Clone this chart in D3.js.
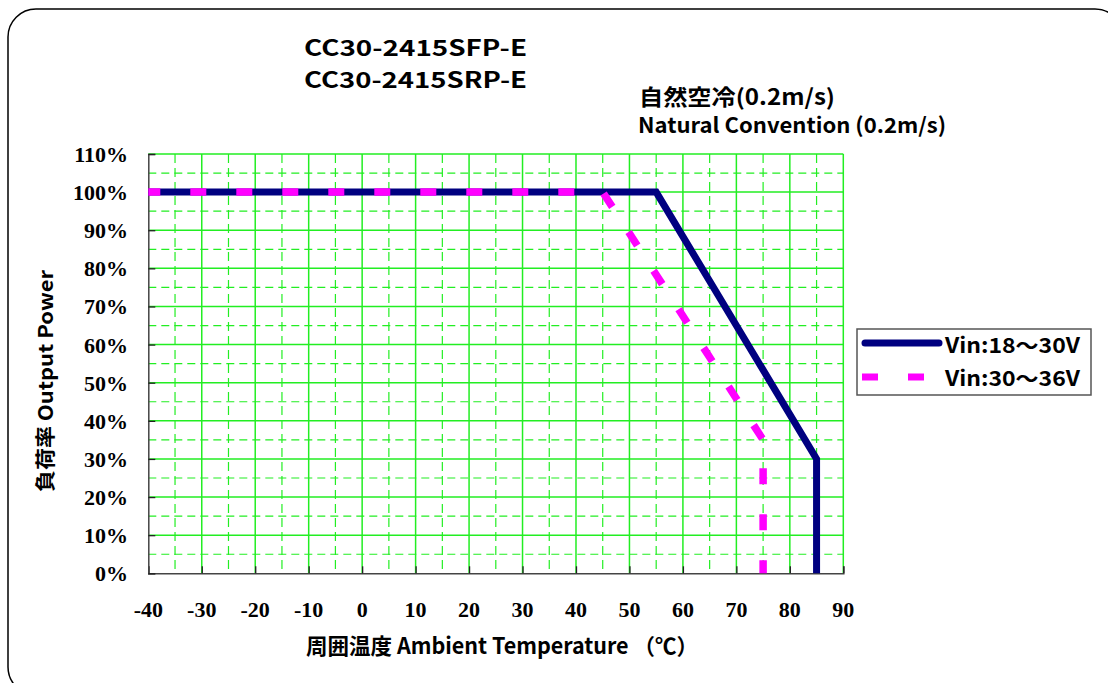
<!DOCTYPE html>
<meta charset="utf-8">
<style>
body { margin: 0; background: #fff; }
.tick-label { font: bold 22px "Liberation Serif", "Times New Roman", serif; fill: #000; }
.goth { font-family: "Noto Sans CJK JP", "Noto Sans", sans-serif; font-weight: bold; fill: #000; }
</style>
<svg width="1108" height="683"></svg>
<script src="https://d3js.org/d3.v7.min.js"></script>
<script>

// values
var xTicks = [-40, -30, -20, -10, 0, 10, 20, 30, 40, 50, 60, 70, 80, 90]
var yTicks = [0, 10, 20, 30, 40, 50, 60, 70, 80, 90, 100, 110]
var xMinor = [-35, -25, -15, -5, 5, 15, 25, 35, 45, 55, 65, 75, 85]
var yMinor = [5, 15, 25, 35, 45, 55, 65, 75, 85, 95, 105]

var tempA = [-40, 55, 85, 85]
var powerA = [100, 100, 30, 0]
var tempB = [-40, 45, 75, 75]
var powerB = [100, 100, 35, 0]

var seriesNames = ["Vin:18～30V", "Vin:30～36V"]
var titleLines = ["CC30-2415SFP-E", "CC30-2415SRP-E"]

var svg = d3.select("svg")

// outer rounded frame
svg.append("rect")
  .attr("x", 8).attr("y", 9)
  .attr("width", 1115).attr("height", 686)
  .attr("rx", 28).attr("ry", 28)
  .attr("fill", "none").attr("stroke", "#000").attr("stroke-width", 1.5)

var x = d3.scaleLinear().domain([-40, 90]).range([148.3, 843.3])
var y = d3.scaleLinear().domain([0, 110]).range([573.3, 154])

var grid = svg.append("g")

// minor dashed grid
grid.selectAll(".vminor").data(xMinor).enter().append("line")
  .attr("x1", function(d){ return x(d) }).attr("x2", function(d){ return x(d) })
  .attr("y1", y(110)).attr("y2", y(0))
  .attr("stroke", "#22ee22").attr("stroke-width", 1.2).attr("stroke-dasharray", "9,5")
grid.selectAll(".hminor").data(yMinor).enter().append("line")
  .attr("y1", function(d){ return y(d) }).attr("y2", function(d){ return y(d) })
  .attr("x1", x(-40)).attr("x2", x(90))
  .attr("stroke", "#22ee22").attr("stroke-width", 1.2).attr("stroke-dasharray", "8,5")

// major solid grid
grid.selectAll(".vmajor").data(xTicks.slice(1)).enter().append("line")
  .attr("x1", function(d){ return x(d) }).attr("x2", function(d){ return x(d) })
  .attr("y1", y(110)).attr("y2", y(0))
  .attr("stroke", "#22ee22").attr("stroke-width", 1.5)
grid.selectAll(".hmajor").data(yTicks.slice(1)).enter().append("line")
  .attr("y1", function(d){ return y(d) }).attr("y2", function(d){ return y(d) })
  .attr("x1", x(-40)).attr("x2", x(90))
  .attr("stroke", "#22ee22").attr("stroke-width", 1.5)

// axes, ticks pointing inward
svg.append("g")
  .attr("transform", "translate(0," + y(0) + ")")
  .call(d3.axisTop(x).tickValues(xTicks).tickSize(7).tickFormat(""))
svg.append("g")
  .attr("transform", "translate(" + x(-40) + ",0)")
  .call(d3.axisRight(y).tickValues(yTicks).tickSize(7).tickFormat(""))
svg.selectAll(".domain").attr("stroke", "#444").attr("stroke-width", 1.5)
svg.selectAll(".tick line").attr("stroke", "#222").attr("stroke-width", 1.3)

// tick labels
svg.selectAll(".xlab").data(xTicks).enter().append("text")
  .attr("class", "tick-label")
  .attr("x", function(d){ return x(d) }).attr("y", 617)
  .attr("text-anchor", "middle")
  .text(function(d){ return d })
svg.selectAll(".ylab").data(yTicks).enter().append("text")
  .attr("class", "tick-label")
  .attr("x", 128).attr("y", function(d){ return y(d) + 8 })
  .attr("text-anchor", "end")
  .text(function(d){ return d + "%" })

// lines
var line = d3.line()
  .x(function(d){ return x(d[0]) })
  .y(function(d){ return y(d[1]) })

svg.append("path")
  .datum(d3.zip(tempA, powerA))
  .attr("d", line)
  .attr("fill", "none").attr("stroke", "#000080").attr("stroke-width", 7)
  .attr("stroke-linejoin", "miter")

svg.append("path")
  .datum(d3.zip(tempB, powerB))
  .attr("d", line)
  .attr("fill", "none").attr("stroke", "#ff00ff").attr("stroke-width", 7.5)
  .attr("stroke-dasharray", "16,30").attr("stroke-dashoffset", 4)

// titles
svg.selectAll(".title").data(titleLines).enter().append("text")
  .attr("class", "goth")
  .attr("x", 304).attr("y", function(d, i){ return 56 + i * 32 })
  .attr("font-size", 22)
  .attr("textLength", 223).attr("lengthAdjust", "spacingAndGlyphs")
  .text(function(d){ return d })

svg.append("text").attr("class", "goth")
  .attr("x", 639).attr("y", 105).attr("font-size", 22)
  .attr("textLength", 196).attr("lengthAdjust", "spacingAndGlyphs")
  .text("自然空冷(0.2m/s)")
svg.append("text").attr("class", "goth")
  .attr("x", 638).attr("y", 133).attr("font-size", 21)
  .attr("textLength", 308).attr("lengthAdjust", "spacingAndGlyphs")
  .text("Natural Convention (0.2m/s)")

// axis titles
svg.append("text").attr("class", "goth")
  .attr("x", 306).attr("y", 654).attr("font-size", 22)
  .attr("textLength", 392).attr("lengthAdjust", "spacingAndGlyphs")
  .text("周囲温度 Ambient Temperature （℃）")

svg.append("text").attr("class", "goth")
  .attr("transform", "translate(53,381) rotate(-90)")
  .attr("text-anchor", "middle").attr("font-size", 20)
  .attr("textLength", 222).attr("lengthAdjust", "spacingAndGlyphs")
  .text("負荷率 Output Power")

// legend
var legend = svg.append("g")
legend.append("rect")
  .attr("x", 857).attr("y", 329).attr("width", 234).attr("height", 66)
  .attr("fill", "#fff").attr("stroke", "#555").attr("stroke-width", 1.5)
legend.append("line")
  .attr("x1", 865).attr("x2", 939).attr("y1", 343).attr("y2", 343)
  .attr("stroke", "#000080").attr("stroke-width", 7).attr("stroke-linecap", "round")
legend.append("line")
  .attr("x1", 862).attr("x2", 940).attr("y1", 377).attr("y2", 377)
  .attr("stroke", "#ff00ff").attr("stroke-width", 7).attr("stroke-dasharray", "16,30")
legend.selectAll(".ltext").data(seriesNames).enter().append("text")
  .attr("class", "goth")
  .attr("x", 945).attr("y", function(d, i){ return 353 + i * 33 })
  .attr("font-size", 21)
  .attr("textLength", 135).attr("lengthAdjust", "spacingAndGlyphs")
  .text(function(d){ return d })

</script>
